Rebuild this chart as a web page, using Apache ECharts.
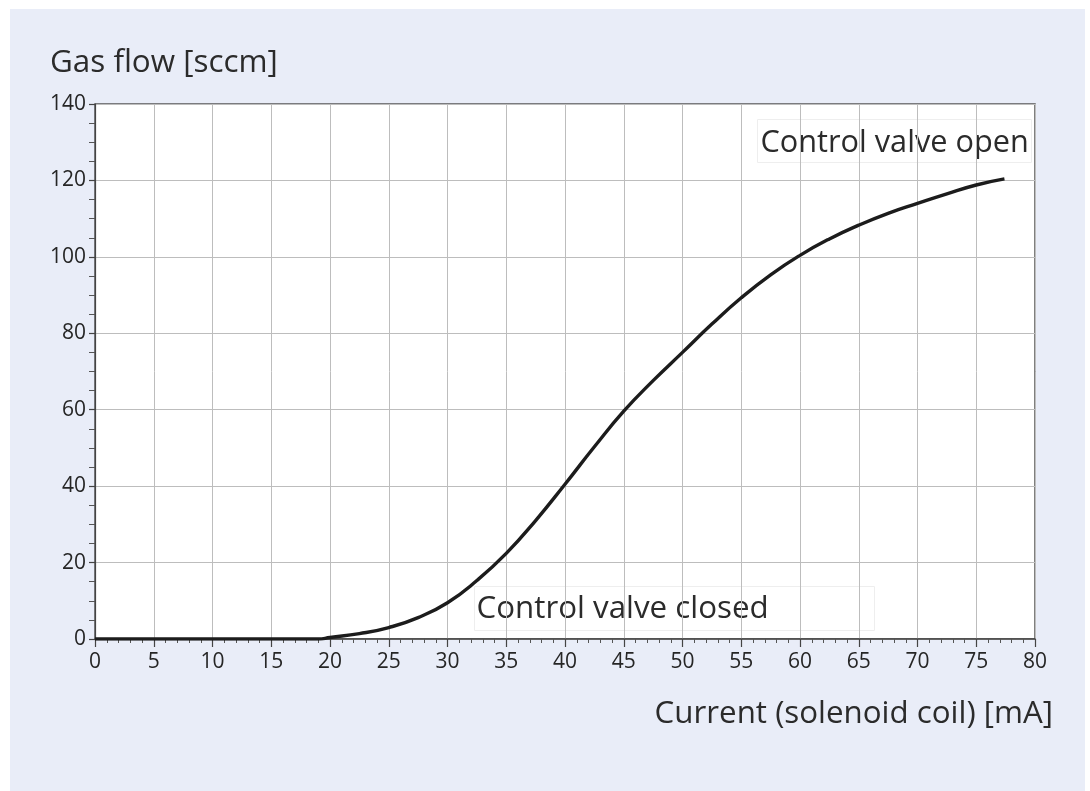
<!DOCTYPE html>
<html>
<head>
    <meta charset="UTF-8">
    <title>Gas flow vs current</title>
    <script src="https://cdn.jsdelivr.net/npm/echarts@6.0.0/dist/echarts.min.js"></script>
    <style>
        * { margin: 0; padding: 0; box-sizing: border-box; }
        body { background: #fff; width: 1090px; height: 791px; position: relative; overflow: hidden; }
        .panel {
            position: absolute;
            left: 10px; top: 9px;
            width: 1075px; height: 782px;
            background: #e9edf8;
        }
        #chart { position: absolute; left: 0; top: 0; width: 1090px; height: 791px; }
    </style>
</head>
<body>
    <div class="panel"></div>
    <div id="chart"></div>
    <script>
        // current in mA, gas flow in sccm
        const current = [0, 5, 10, 15, 19, 20, 22.5, 25, 27.5, 30, 32.5, 35, 37.5, 40, 42.5, 45, 47.5, 50, 52.5, 55, 57.5, 60, 62.5, 65, 67.5, 70, 72.5, 75, 77.4];
        const flow =    [0, 0, 0,  0,  0,  0.4, 1.4, 3.0, 5.6, 9.5, 15.3, 22.4, 31.0, 40.5, 50.3, 59.6, 67.6, 75.0, 82.4, 89.3, 95.3, 100.4, 104.7, 108.3, 111.4, 114.0, 116.5, 118.8, 120.4];

        const xTicks = { min: 0, max: 80, step: 5 };
        const yTicks = { min: 0, max: 140, step: 20 };

        const yName = 'Gas flow [sccm]';
        const xName = 'Current (solenoid coil) [mA]';
        const noteOpen = 'Control valve open';
        const noteClosed = 'Control valve closed';

        const fontFamily = '"Open Sans", "DejaVu Sans", sans-serif';
        const textColor = '#2b2b2b';

        // pick a font size so a string fills a given width
        const measureCtx = document.createElement('canvas').getContext('2d');
        function fitSize(text, width) {
            measureCtx.font = '100px ' + fontFamily;
            return Math.round(100 * width / measureCtx.measureText(text).width * 10) / 10;
        }
        const nameSize = fitSize(xName, 398);
        const ySize = fitSize(yName, 228);
        const openSize = fitSize(noteOpen, 268);
        const closedSize = fitSize(noteClosed, 292);

        const chart = echarts.init(document.getElementById('chart'));

        const option = {
            animation: false,
            backgroundColor: 'transparent',
            grid: {
                left: 95, right: 55, top: 104, bottom: 152,
                show: true,
                backgroundColor: '#fff',
                borderColor: '#555',
                borderWidth: 1.5
            },
            xAxis: {
                type: 'value',
                min: xTicks.min, max: xTicks.max, interval: xTicks.step,
                name: xName,
                nameLocation: 'end',
                nameGap: 0,
                nameTextStyle: {
                    color: textColor, fontSize: nameSize, fontFamily: fontFamily,
                    align: 'right', verticalAlign: 'top',
                    padding: [60, -18, 0, 0]
                },
                axisLine: { show: true, lineStyle: { color: '#444', width: 1.5 } },
                axisTick: { show: true, length: 8, lineStyle: { color: '#444', width: 1.2 } },
                minorTick: { show: true, splitNumber: 5, length: 4, lineStyle: { color: '#555' } },
                axisLabel: { color: '#262626', fontSize: 21, fontFamily: fontFamily, margin: 13 },
                splitLine: { show: true, lineStyle: { color: '#bdbdbd', width: 1 } }
            },
            yAxis: {
                type: 'value',
                min: yTicks.min, max: yTicks.max, interval: yTicks.step,
                name: yName,
                nameLocation: 'end',
                nameGap: 0,
                nameTextStyle: {
                    color: textColor, fontSize: ySize, fontFamily: fontFamily,
                    align: 'left', verticalAlign: 'bottom',
                    padding: [0, 0, 25, -45]
                },
                axisLine: { show: true, lineStyle: { color: '#444', width: 1.2 } },
                axisTick: { show: true, length: 6, lineStyle: { color: '#444', width: 1.2 } },
                minorTick: { show: true, splitNumber: 4, length: 6, lineStyle: { color: '#555' } },
                axisLabel: { color: '#262626', fontSize: 21, fontFamily: fontFamily, margin: 9 },
                splitLine: { show: true, lineStyle: { color: '#bdbdbd', width: 1 } }
            },
            series: [{
                type: 'line',
                data: current.map((c, i) => [c, flow[i]]),
                smooth: 0.5,
                symbol: 'none',
                lineStyle: { color: '#1c1c1c', width: 3.4 },
                z: 5
            }],
            graphic: [
                {
                    type: 'group', left: 757, top: 119, z: 10,
                    children: [
                        { type: 'rect', shape: { x: 0, y: 0, width: 274, height: 43 },
                          style: { fill: '#fff', stroke: '#eeeeee', lineWidth: 1 } },
                        { type: 'text', x: 3, y: 24,
                          style: { text: noteOpen, fill: textColor, fontSize: openSize,
                                   fontFamily: fontFamily, verticalAlign: 'middle' } }
                    ]
                },
                {
                    type: 'group', left: 474, top: 586, z: 10,
                    children: [
                        { type: 'rect', shape: { x: 0, y: 0, width: 400, height: 44 },
                          style: { fill: '#fff', stroke: '#eeeeee', lineWidth: 1 } },
                        { type: 'text', x: 2, y: 23,
                          style: { text: noteClosed, fill: textColor, fontSize: closedSize,
                                   fontFamily: fontFamily, verticalAlign: 'middle' } }
                    ]
                }
            ]
        };

        chart.setOption(option);
    </script>
</body>
</html>
